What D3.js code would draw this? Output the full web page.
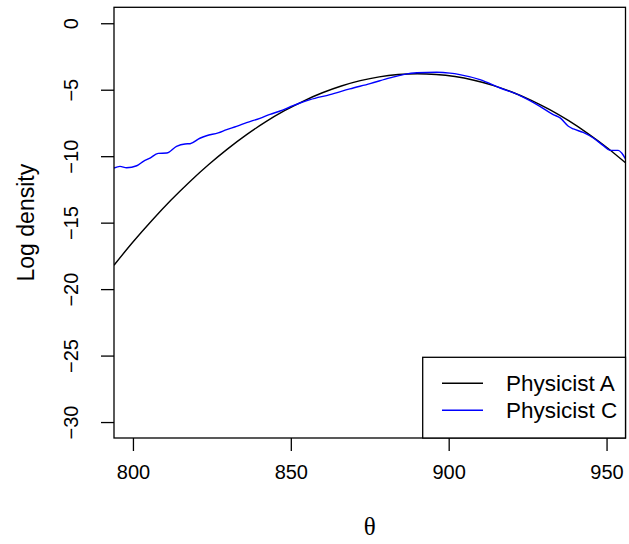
<!DOCTYPE html>
<html>
<head>
<meta charset="utf-8">
<script src="https://cdn.jsdelivr.net/npm/d3@7"></script>
<style>
  html, body { margin: 0; padding: 0; background: #fff; }
  svg { display: block; }
  text { font-family: "Liberation Sans", Arial, sans-serif; fill: #000; }
</style>
</head>
<body>
<svg id="chart" width="629" height="544"></svg>
<script>
// Physicist A: log density on the theta grid
const thetaA = [794, 800, 806, 812, 818, 824, 830, 836, 842, 848, 854, 860, 866, 872, 878, 884, 890,
                896, 902, 908, 914, 920, 926, 932, 938, 944, 950, 956];
const logDensA = [-18.20, -16.46, -14.84, -13.32, -11.92, -10.63, -9.45, -8.38, -7.42, -6.58, -5.85,
                  -5.23, -4.72, -4.32, -4.03, -3.86, -3.80, -3.85, -4.01, -4.29, -4.67, -5.17, -5.78,
                  -6.50, -7.33, -8.28, -9.33, -10.50];

// Physicist C: log density (wiggly estimate)
const thetaC = [794.0, 795.9, 798.0, 801.2, 803.3, 805.4, 808.0, 810.7, 813.8, 816.5, 818.1, 821.2,
                823.3, 827.0, 829.7, 832.8, 836.0, 840.2, 843.4, 846.6, 849.7, 852.9, 856.1, 862.4,
                868.7, 875.1, 881.4, 885.6, 889.9, 896.2, 900.4, 903.5, 909.9, 916.3, 922.6, 928.9,
                933.1, 935.3, 937.9, 939.5, 942.6, 945.8, 949.0, 951.1, 953.7, 954.8, 956.4];
const logDensC = [-10.89, -10.77, -10.87, -10.72, -10.39, -10.14, -9.79, -9.76, -9.26, -9.08, -9.06,
                  -8.65, -8.46, -8.25, -8.00, -7.76, -7.48, -7.15, -6.85, -6.60, -6.30, -6.00, -5.75,
                  -5.37, -4.94, -4.54, -4.11, -3.86, -3.72, -3.69, -3.75, -3.86, -4.24, -4.87, -5.44,
                  -6.25, -6.87, -7.12, -7.75, -7.95, -8.21, -8.63, -9.21, -9.56, -9.56, -9.76, -10.39];

const xTicks = [800, 850, 900, 950];
const yTicks = [0, -5, -10, -15, -20, -25, -30];
const xDomain = [794, 956];
const yDomain = [-31.2, 1.2];

const seriesNames = ["Physicist A", "Physicist C"];
const seriesColors = ["#000000", "#0000ff"];

const W = 629, H = 544;
const margin = { left: 114, right: 3.5, top: 7.3, bottom: 106 };
const tickFont = 20, labelFont = 23, legendFont = 22.5;

const svg = d3.select("#chart");
const x = d3.scaleLinear().domain(xDomain).range([margin.left, W - margin.right]);
const y = d3.scaleLinear().domain(yDomain).range([H - margin.bottom, margin.top]);

const fmt = d => (d < 0 ? "\u2212" + Math.abs(d) : String(d));

// clip region = plotting area
svg.append("defs").append("clipPath").attr("id", "plotclip")
  .append("rect")
  .attr("x", x.range()[0]).attr("y", y.range()[1])
  .attr("width", x.range()[1] - x.range()[0])
  .attr("height", y.range()[0] - y.range()[1]);

// curves
const line = d3.line().x(d => x(d[0])).y(d => y(d[1])).curve(d3.curveMonotoneX);
const series = [
  d3.zip(thetaA, logDensA),
  d3.zip(thetaC, logDensC)
];
const curves = svg.append("g").attr("clip-path", "url(#plotclip)");
series.forEach((s, i) => {
  curves.append("path")
    .datum(s)
    .attr("d", line)
    .attr("fill", "none")
    .attr("stroke", seriesColors[i])
    .attr("stroke-width", 1.4)
    .attr("stroke-linejoin", "round");
});

// x axis
const xAxis = svg.append("g")
  .attr("transform", `translate(0,${H - margin.bottom})`)
  .call(d3.axisBottom(x).tickValues(xTicks).tickFormat(fmt).tickSize(13));
xAxis.select(".domain").remove();
xAxis.selectAll("line").attr("stroke", "#000").attr("stroke-width", 1.3);
xAxis.selectAll("text")
  .attr("font-size", tickFont)
  .attr("font-family", "Liberation Sans, Arial, sans-serif")
  .attr("y", 41).attr("dy", null);

// y axis with rotated labels
const yAxis = svg.append("g")
  .attr("transform", `translate(${margin.left},0)`)
  .call(d3.axisLeft(y).tickValues(yTicks).tickFormat(fmt).tickSize(13));
yAxis.select(".domain").remove();
yAxis.selectAll("line").attr("stroke", "#000").attr("stroke-width", 1.3);
yAxis.selectAll("text")
  .attr("font-size", tickFont)
  .attr("font-family", "Liberation Sans, Arial, sans-serif")
  .attr("x", null).attr("dy", null)
  .attr("text-anchor", "middle")
  .attr("transform", "translate(-36.5,0) rotate(-90)");

// plot frame
svg.append("rect")
  .attr("x", x.range()[0]).attr("y", y.range()[1])
  .attr("width", x.range()[1] - x.range()[0])
  .attr("height", y.range()[0] - y.range()[1])
  .attr("fill", "none").attr("stroke", "#000").attr("stroke-width", 1.3);

// axis titles
svg.append("text")
  .attr("x", (x.range()[0] + x.range()[1]) / 2)
  .attr("y", 535)
  .attr("text-anchor", "middle")
  .attr("font-size", 25)
  .style("font-family", "'Liberation Serif', 'DejaVu Serif', serif")
  .text("\u03b8");

svg.append("text")
  .attr("transform", `translate(33.5,${(y.range()[0] + y.range()[1]) / 2}) rotate(-90)`)
  .attr("text-anchor", "middle")
  .attr("font-size", labelFont)
  .text("Log density");

// legend, bottom-right corner of the plot
const legW = 202.8, legH = 80.7;
const legX = x.range()[1] - legW, legY = y.range()[0] - legH;
const leg = svg.append("g");
leg.append("rect")
  .attr("x", legX).attr("y", legY)
  .attr("width", legW).attr("height", legH)
  .attr("fill", "#fff").attr("stroke", "#000").attr("stroke-width", 1.3);
seriesNames.forEach((name, i) => {
  const ly = legY + 26 + i * 27;
  leg.append("line")
    .attr("x1", legX + 19.3).attr("x2", legX + 60.3)
    .attr("y1", ly).attr("y2", ly)
    .attr("stroke", seriesColors[i]).attr("stroke-width", 1.4);
  leg.append("text")
    .attr("x", legX + 83.3).attr("y", ly)
    .attr("dy", "0.36em")
    .attr("font-size", legendFont)
    .text(name);
});
</script>
</body>
</html>
